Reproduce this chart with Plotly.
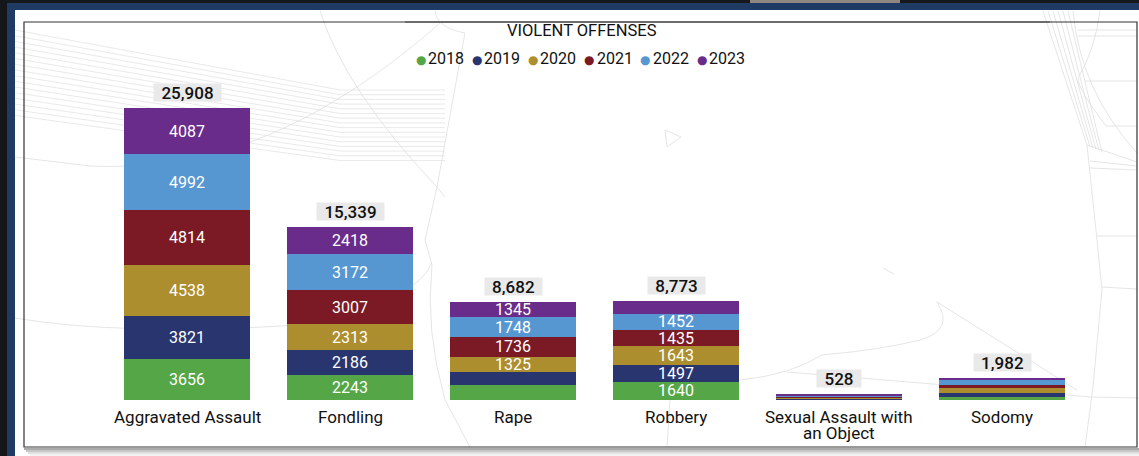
import plotly.graph_objects as go

categories = ["Aggravated Assault", "Fondling", "Rape", "Robbery", "Sexual Assault with<br>an Object", "Sodomy"]
years = ["2018", "2019", "2020", "2021", "2022", "2023"]
colors = ["#55A646", "#29356F", "#AD8E2E", "#7B1A25", "#5797D1", "#6A2C8A"]
v2018 = [3656, 2243, 1313, 1640, 80, 295]
v2019 = [3821, 2186, 1215, 1497, 60, 355]
v2020 = [4538, 2313, 1325, 1643, 85, 385]
v2021 = [4814, 3007, 1736, 1435, 100, 300]
v2022 = [4992, 3172, 1748, 1452, 110, 400]
v2023 = [4087, 2418, 1345, 1106, 93, 247]
series = [v2018, v2019, v2020, v2021, v2022, v2023]
hidden_labels = {(0, 2), (1, 2), (5, 3)}
totals = [25908, 15339, 8682, 8773, 528, 1982]

W, H = 1139, 456
L, B_PX, T = 24, 400, 22
FONT = "Roboto"
INK = "#111111"
MAP = "#DEDEDE"

def px(x):
    return (x - L) / (W - L)

def py(y):
    return (B_PX - y) / (B_PX - T)

def rect(x0, y0, x1, y1, color):
    return dict(type="rect", xref="paper", yref="paper", x0=px(x0), x1=px(x1), y0=py(y1), y1=py(y0),
                fillcolor=color, line=dict(width=0), layer="below")

def curve(d, color=MAP, width=0.8):
    out = []
    for p in d.split():
        if "," in p:
            a, b = p.split(",")
            out.append(f"{px(float(a)):.5f},{py(float(b)):.5f}")
        else:
            out.append(p)
    return dict(type="path", xref="paper", yref="paper", path=" ".join(out),
                line=dict(color=color, width=width), layer="below")

shapes = [
    rect(0, 0, W, 3, "#16181C"),
    rect(750, 0, 900, 3, "#8F8780"),
    rect(0, 0, 7, H, "#15161A"),
    rect(7, 3, W, 10, "#1F3A63"),
    rect(7, 3, 15, H, "#1F3A63"),
    rect(15, 10, W, H, "#FFFFFF"),
    rect(24, 448, W, 450, "#ABABAB"),
    rect(26, 450, W, 452, "#C6C6C6"),
    rect(28, 452, W, 454, "#E0E0E0"),
    rect(30, 454, W, 456, "#F2F2F2"),
]
# faint hatching and street lines behind the chart
for i in range(16):
    shapes.append(curve(f"M 15,{30 + i * 5.7:.1f} L 340,{90 + i * 4.7:.1f} L 445,{90 + i * 4.7:.1f}", color="#E0E0E0", width=0.7))
for i in range(6):
    shapes.append(curve(f"M {1043 + i * 5},11 L {1087 + i * 3},{145 + i * 1.5}"))
shapes += [
    curve("M 320,11 Q 345,90 437,187 L 445,197"),
    curve("M 440,23 C 370,85 300,125 247,143 Q 160,170 90,166 L 15,157"),
    curve("M 465,33 L 437,187 L 425,240 L 432,265 Q 425,330 445,400 L 470,447"),
    curve("M 435,11 Q 437,28 465,33"),
    curve("M 15,318 Q 120,336 300,325 Q 420,300 432,262"),
    curve("M 665,130 L 681,137 L 667,147 Z"),
    curve("M 883,268 L 894,274"),
    curve("M 937,302 Q 955,330 920,340 Q 880,350 822,355 Q 790,375 740,380 L 680,378"),
    curve("M 787,372 L 1091,397 L 1139,398"),
    curve("M 937,302 L 1077,390"),
    curve("M 670,400 L 667,447"),
    curve("M 1073,11 Q 1080,90 1137,153"),
    curve("M 1100,11 Q 1095,50 1078,78 Q 1078,90 1107,127"),
    curve("M 1087,145 L 1096,230 L 1102,290 L 1093,387 L 1085,447"),
    curve("M 1087,145 L 1137,162"),
    curve("M 1077,36 L 1137,36"), curve("M 1077,30 L 1137,30"),
    curve("M 1085,81 L 1137,81"), curve("M 1107,126 L 1137,126"),
    curve("M 1090,161 L 1137,166"), curve("M 1090,168 L 1137,170"),
    curve("M 1097,236 L 1137,236"), curve("M 1102,287 L 1137,289"),
]
# frame of the chart
shapes.append(dict(type="rect", xref="paper", yref="paper", x0=px(24), x1=px(1137), y0=py(447), y1=py(22),
                   line=dict(color="#333333", width=1.2), fillcolor="rgba(0,0,0,0)", layer="above"))
shapes.append(curve("M 405,22 L 1050,22", color="#8A8A8A", width=1.4))

fig = go.Figure()
for s, (name, vals, col) in enumerate(zip(years, series, colors)):
    text = ["" if (s, c) in hidden_labels or c >= 4 else str(v) for c, v in enumerate(vals)]
    fig.add_trace(go.Bar(x=categories, y=vals, name=name, marker=dict(color=col, line=dict(width=0)),
                         text=text, textposition="inside", insidetextanchor="middle", textangle=0,
                         constraintext="none", insidetextfont=dict(color="white", size=16, family=FONT),
                         showlegend=False, hoverinfo="skip"))

PILL_W = {3: 44, 5: 57, 6: 67}
annotations = []
for c, t in zip(categories, totals):
    label = f"{t:,}"
    annotations.append(dict(x=c, y=t, xref="x", yref="y", text=label, showarrow=False, yanchor="bottom", yshift=6,
                            bgcolor="#E9E9E9", width=PILL_W[len(label)], height=17, borderpad=0,
                            font=dict(size=17, color=INK, family=FONT, weight=500)))
# category labels, with the tight line spacing of the reference
for c in categories:
    for i, line in enumerate(c.split("<br>")):
        annotations.append(dict(x=c, y=0, xref="x", yref="y", text=line, showarrow=False, yanchor="top",
                                yshift=-(5 + 16 * i), font=dict(size=17, color=INK, family=FONT)))
annotations.append(dict(x=px(581.5), y=py(30), xref="paper", yref="paper", yanchor="middle",
                        text="VIOLENT OFFENSES", showarrow=False,
                        font=dict(size=16.5, color=INK, family=FONT)))
# legend row: dot and year as real text
for i, (year, col) in enumerate(zip(years, colors)):
    annotations.append(dict(x=px(420.5 + i * 56.2), y=py(60), xref="paper", yref="paper", xanchor="center",
                            yanchor="middle", showarrow=False, text="●",
                            font=dict(size=12, color=col, family="DejaVu Sans")))
    annotations.append(dict(x=px(426 + i * 56.2), y=py(58), xref="paper", yref="paper", xanchor="left",
                            yanchor="middle", showarrow=False, text=year,
                            font=dict(size=16, color=INK, family=FONT)))

fig.update_layout(
    width=W, height=H, barmode="stack", bargap=0.225, showlegend=False,
    margin=dict(l=L, r=0, t=T, b=H - B_PX, autoexpand=False),
    paper_bgcolor="white", plot_bgcolor="rgba(0,0,0,0)",
    font=dict(family=FONT, size=16, color=INK),
    shapes=shapes, annotations=annotations,
    xaxis=dict(type="category", categoryorder="array", categoryarray=categories, range=[-1, 5.84],
               showgrid=False, showline=False, zeroline=False, ticks="", showticklabels=False),
    yaxis=dict(range=[0, (B_PX - T) / (292 / 25908)], visible=False, showgrid=False, zeroline=False),
)
fig.write_html("out.html", config=dict(displayModeBar=False),
               post_script="document.body.style.margin='0';document.body.style.overflow='hidden';")
